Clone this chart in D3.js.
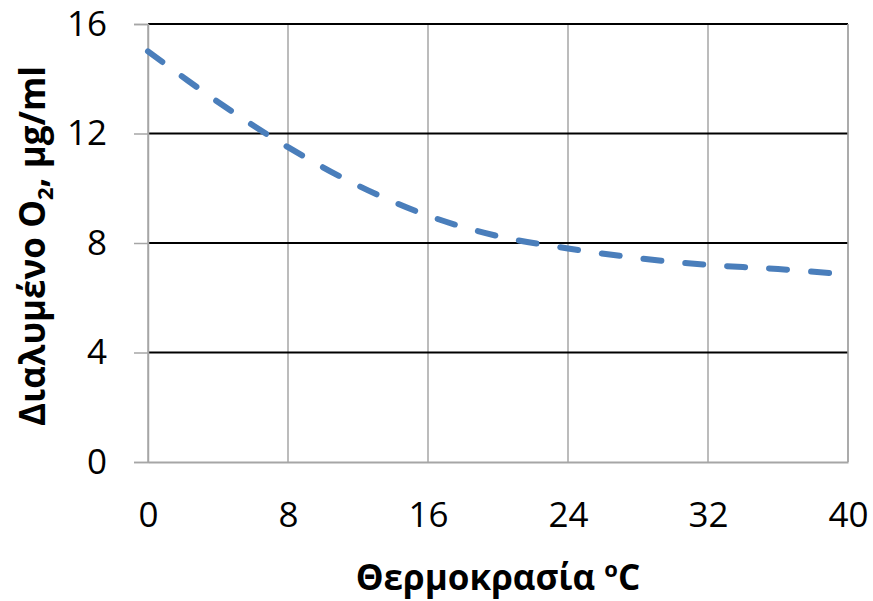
<!DOCTYPE html>
<html>
<head>
<meta charset="utf-8">
<script src="https://cdn.jsdelivr.net/npm/d3@7"></script>
<style>
  body { margin: 0; background: #fff; }
  text { font-family: "Open Sans", "Liberation Sans", sans-serif; }
</style>
</head>
<body>
<svg id="chart" width="873" height="601"></svg>
<script>
// temperatures (oC) and dissolved O2
var temps = [0, 4, 8, 12, 16, 20, 24, 28, 32, 36, 40];
var oxygen = [15.0, 13.15, 11.5, 10.1, 9.0, 8.25, 7.8, 7.45, 7.2, 7.05, 6.85];
var xTicks = [0, 8, 16, 24, 32, 40];
var yTicks = [0, 4, 8, 12, 16];

var svg = d3.select("#chart");
var plotL = 148, plotR = 848, plotT = 24, plotB = 462;

var x = d3.scaleLinear().domain([0, 40]).range([plotL, plotR]);
var y = d3.scaleLinear().domain([0, 16]).range([plotB, plotT]);

// vertical grid (grey)
svg.append("g").selectAll("line")
  .data(xTicks)
  .enter().append("line")
  .attr("x1", function(d) { return x(d); })
  .attr("x2", function(d) { return x(d); })
  .attr("y1", plotT)
  .attr("y2", plotB)
  .attr("stroke", "#a6a6a6")
  .attr("stroke-width", 1.5);

// horizontal grid (black)
svg.append("g").selectAll("line")
  .data(yTicks.filter(function(d) { return d > 0; }))
  .enter().append("line")
  .attr("x1", plotL)
  .attr("x2", plotR)
  .attr("y1", function(d) { return y(d); })
  .attr("y2", function(d) { return y(d); })
  .attr("stroke", "#000")
  .attr("stroke-width", 2);

// y axis with ticks to the left
var yAxis = svg.append("g")
  .attr("transform", "translate(" + plotL + ",0)")
  .call(d3.axisLeft(y).tickValues(yTicks).tickSize(14).tickPadding(27));
yAxis.select(".domain").attr("stroke", "#a6a6a6").attr("stroke-width", 1.5);
yAxis.selectAll(".tick line").attr("stroke", "#a6a6a6").attr("stroke-width", 1.5);
yAxis.selectAll("text").attr("font-size", 35).attr("fill", "#000")
  .style("font-family", "'Open Sans', sans-serif").style("font-weight", 500);

// x axis, no tick marks
var xAxis = svg.append("g")
  .attr("transform", "translate(0," + plotB + ")")
  .call(d3.axisBottom(x).tickValues(xTicks).tickSize(0).tickPadding(40));
xAxis.select(".domain").attr("stroke", "#a6a6a6").attr("stroke-width", 2);
xAxis.selectAll("text").attr("font-size", 35).attr("fill", "#000")
  .style("font-family", "'Open Sans', sans-serif").style("font-weight", 500);

// right border
svg.append("line")
  .attr("x1", plotR).attr("x2", plotR)
  .attr("y1", plotT).attr("y2", plotB)
  .attr("stroke", "#a6a6a6").attr("stroke-width", 1.5);

// dashed curve
var line = d3.line()
  .x(function(d, i) { return x(temps[i]); })
  .y(function(d) { return y(d); })
  .curve(d3.curveCatmullRom);

svg.append("path")
  .datum(oxygen)
  .attr("d", line)
  .attr("fill", "none")
  .attr("stroke", "#4a7ebb")
  .attr("stroke-width", 6)
  .attr("stroke-linecap", "round")
  .attr("stroke-dasharray", "18,24");

// axis titles
var xt = svg.append("text")
  .attr("x", 498)
  .attr("y", 590)
  .attr("text-anchor", "middle")
  .attr("font-size", 35)
  .attr("font-weight", "bold");
xt.append("tspan").text("Θερμοκρασία ");
xt.append("tspan").attr("font-size", 22).attr("dy", -13).text("ο");
xt.append("tspan").attr("dy", 13).text("C");

var yt = svg.append("text")
  .attr("transform", "translate(45,246) rotate(-90)")
  .attr("text-anchor", "middle")
  .attr("font-size", 35)
  .attr("font-weight", "bold");
yt.append("tspan").text("Διαλυμένο O");
yt.append("tspan").attr("font-size", 22).attr("dy", 8).text("2");
yt.append("tspan").attr("dy", -8).text(", μg/ml");
</script>
</body>
</html>
